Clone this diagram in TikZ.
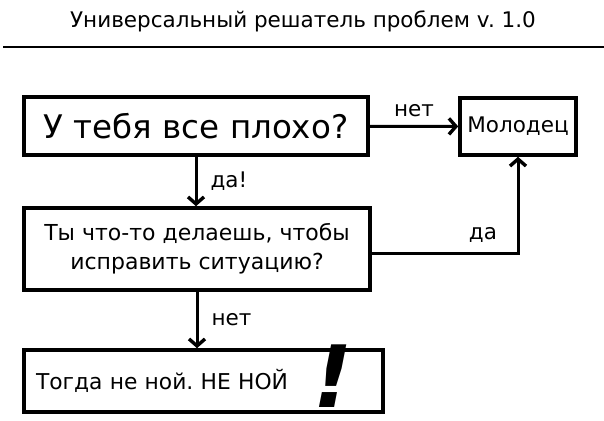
\documentclass[tikz,border=0pt]{standalone}
\usepackage{fontspec}
\setmainfont{DejaVu Sans}
\usetikzlibrary{arrows.meta,positioning}
\frenchspacing

\begin{document}
\begin{tikzpicture}[x=1pt,y=-1pt,
    every node/.style={inner sep=0pt},
    qbox/.style={draw,line width=3.6pt,minimum width=#1},
    lbl/.style={font=\fontsize{21.5}{24}\selectfont},
    arr/.style={line width=3pt,-{Straight Barb[length=7pt,width=16pt,line width=3.4pt]}}]
                \useasboundingbox (0,0) rectangle (604,420);
                \node [font=\fontsize{21.5}{24}\selectfont] (title) at (303,21) {Универсальный решатель проблем v.~1.0};
                \draw [line width=2.4pt] (3,47) -- (604,47);
                \node [qbox=344pt,minimum height=58pt,font=\fontsize{32.5}{36}\selectfont] (bad) at (196,126) {У тебя все плохо?};
                \node [qbox=116pt,minimum height=57pt,font=\fontsize{21.5}{24}\selectfont] (good) at (518,126.5) {Молодец};
                \node [qbox=346pt,minimum height=82pt,align=center,font=\fontsize{22}{29}\selectfont] (fix) at (197,249)
                    {Ты что-то делаешь, чтобы\\ исправить ситуацию?};
                \node [qbox=359pt,minimum height=62pt,text width=335pt,align=left,font=\fontsize{21.8}{25}\selectfont] (cry) at (203.5,381)
                    {Тогда не ной. НЕ НОЙ};
                \node [font=\fontsize{86}{86}\bfseries\itshape\selectfont] (bang) at (333,376) {!};
                \draw [arr] (bad) -- (good) node [lbl,midway,above=8pt] {нет};
                \draw [arr] (bad.south) -- (bad.south |- fix.north) node [lbl,midway,right=13pt] {да!};
                \draw [arr] (fix.south) -- (fix.south |- cry.north) node [lbl,midway,right=13pt] {нет};
                \draw [arr] ([yshift=-4pt]fix.east) -| (good.south) node [lbl,pos=0.38,above=9pt] {да};
            \end{tikzpicture}
\end{document}
